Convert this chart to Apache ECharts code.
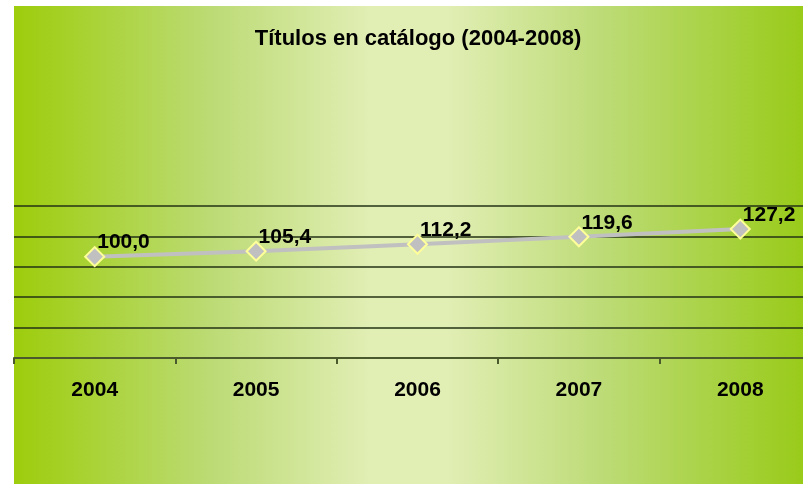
<!DOCTYPE html>
<html>
<head>
<meta charset="utf-8">
<script src="https://cdn.jsdelivr.net/npm/echarts@6/dist/echarts.min.js"></script>
<style>
  html, body { margin: 0; padding: 0; background: #fff; overflow: hidden; }
  #chart { width: 830px; height: 484px; }
</style>
</head>
<body>
<div id="chart"></div>
<script>
var years = ['2004', '2005', '2006', '2007', '2008'];
var titulos = [100.0, 105.4, 112.2, 119.6, 127.2];

var myChart = echarts.init(document.getElementById('chart'));

function fmt(v) {
    return v.toFixed(1).replace('.', ',');
}

myChart.setOption({
    backgroundColor: '#fff',
    textStyle: { fontFamily: 'Liberation Sans, Arial, sans-serif' },
    graphic: [{
        type: 'rect',
        z: -10,
        silent: true,
        shape: { x: 14, y: 6, width: 789, height: 478 },
        style: {
            fill: new echarts.graphic.LinearGradient(0, 0, 1, 0, [
                { offset: 0, color: '#9dcd0c' },
                { offset: 0.25, color: '#bcdb75' },
                { offset: 0.45, color: '#e1eeb4' },
                { offset: 0.55, color: '#e1eeb4' },
                { offset: 0.75, color: '#bcdb75' },
                { offset: 1, color: '#99cb1a' }
            ])
        }
    }, {
        type: 'rect',
        z: -10,
        silent: true,
        shape: { x: 803, y: 6, width: 40, height: 478 },
        style: { fill: '#99cb1a' }
    }],
    title: {
        text: 'Títulos en catálogo (2004-2008)',
        left: 413,
        top: 23,
        textAlign: 'center',
        textStyle: { fontSize: 22, fontWeight: 'bold', color: '#000' }
    },
    grid: { left: 14, top: 206, width: 807, height: 152 },
    xAxis: {
        type: 'category',
        data: years,
        boundaryGap: true,
        axisLine: { lineStyle: { color: '#4a5a2c', width: 2 } },
        axisTick: { show: true, length: 6, lineStyle: { color: '#4a5a2c', width: 2 } },
        axisLabel: { fontSize: 21, fontWeight: 'bold', color: '#000', margin: 22 }
    },
    yAxis: {
        type: 'value',
        min: 0,
        max: 150,
        interval: 30,
        axisLine: { show: false },
        axisTick: { show: false },
        axisLabel: { show: false },
        splitLine: { lineStyle: { color: 'rgba(35,50,20,0.75)', width: 2 } }
    },
    series: [{
        type: 'line',
        data: titulos,
        symbol: 'diamond',
        symbolSize: 19,
        lineStyle: { color: '#c0c0c0', width: 4 },
        itemStyle: { color: '#c0c0c0', borderColor: '#ffff99', borderWidth: 2 },
        label: {
            show: true,
            position: 'right',
            offset: [-13, -14],
            fontSize: 21,
            fontWeight: 'bold',
            color: '#000',
            formatter: function (p) { return fmt(p.value); }
        },
        emphasis: { disabled: true }
    }]
});
</script>
</body>
</html>
